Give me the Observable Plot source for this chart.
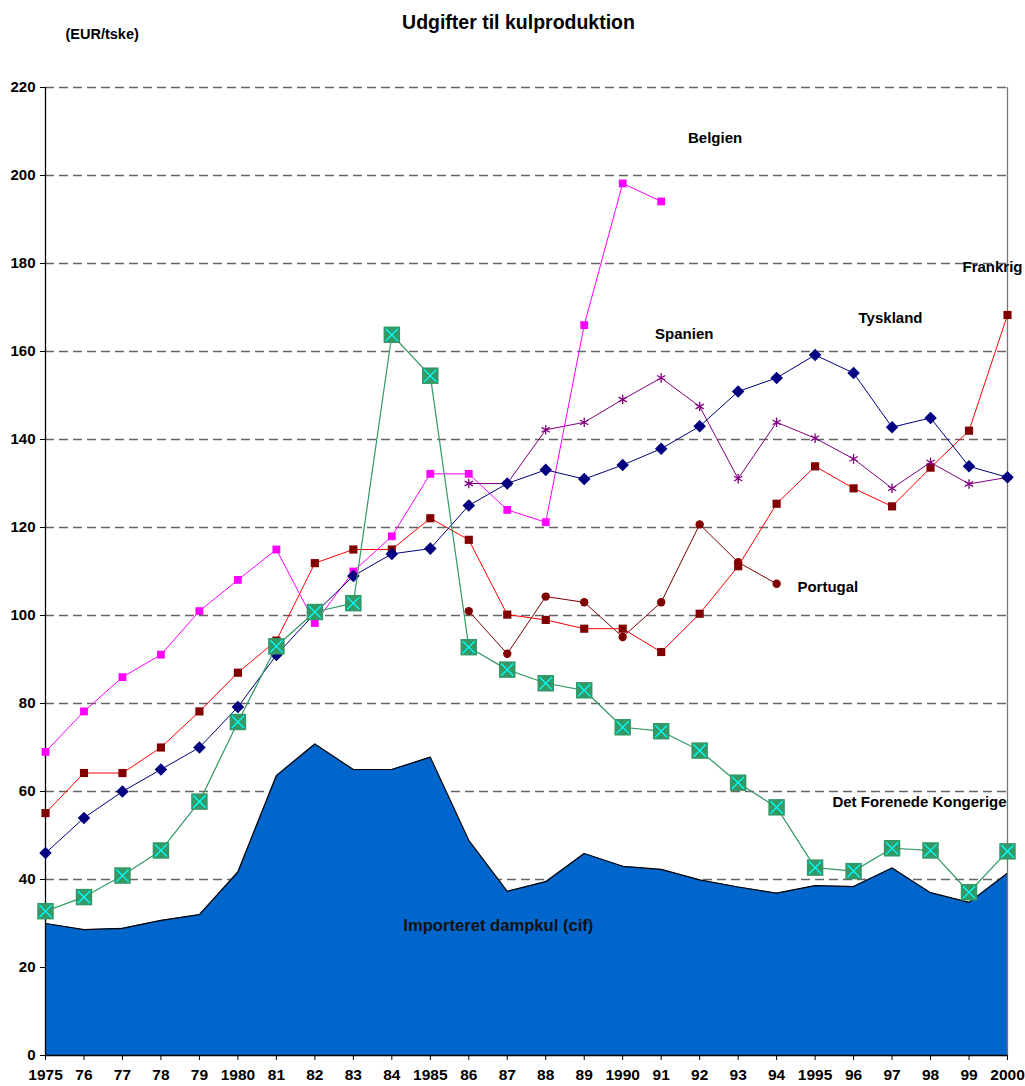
<!DOCTYPE html>
<html>
<head>
<meta charset="utf-8">
<script src="https://cdn.jsdelivr.net/npm/d3@7"></script>
<script src="https://cdn.jsdelivr.net/npm/@observablehq/plot@0.6"></script>
<style>
  html, body { margin: 0; padding: 0; background: white; }
</style>
</head>
<body>
<div id="chart"></div>
<script>
const years = d3.range(1975, 2001);
const tickLabels = ["1975","76","77","78","79","1980","81","82","83","84","1985","86","87","88","89","1990","91","92","93","94","1995","96","97","98","99","2000"];
const yTicks = [0,20,40,60,80,100,120,140,160,180,200,220];

const importeret = [30,28.6,28.9,30.7,32,41.7,63.6,70.8,65,65,67.8,48.9,37.3,39.5,45.9,43,42.3,39.9,38.3,36.9,38.6,38.4,42.6,37,34.8,41.4];
const belgienYears = d3.range(1975, 1992);
const belgien = [69,78.2,86,91.1,101,108.1,115,98.3,110,118,132.2,132.2,124,121.2,166,198.2,194.1];
const frankrig = [55.1,64.2,64.2,70,78.2,87,94.3,111.9,115,115,122.1,117.2,100.2,99,97,97,91.7,100.4,111.2,125.4,133.9,128.9,124.8,133.6,142,168.3];
const tyskland = [46,54,60,65,70,79.2,91,100.5,109,114,115.2,125,130,133.1,131,134.2,137.9,143,150.9,154,159.2,155.1,142.8,144.9,133.9,131.4];
const spanienYears = d3.range(1986, 2001);
const spanien = [130,130,142.2,143.9,149.1,154,147.5,131.1,143.9,140.3,135.6,128.9,134.8,129.9,131.4];
const portugalYears = d3.range(1986, 1995);
const portugal = [101,91.3,104.3,103,95.1,103,120.7,112.1,107.2];
const kongerige = [32.8,36,40.9,46.6,57.7,75.8,93,100.8,102.8,163.8,154.5,92.8,87.7,84.6,83,74.6,73.7,69.3,62,56.4,42.7,41.9,47.1,46.6,37.1,46.4];

const title = "Udgifter til kulproduktion";
const unit = "(EUR/tske)";
const centeredLabels = [
  {name: "Belgien", year: 1992.4, value: 208.4},
  {name: "Spanien", year: 1991.6, value: 163.9},
  {name: "Tyskland", year: 1996.96, value: 167.5}
];
const startLabels = [
  {name: "Frankrig", year: 1998.83, value: 179.1},
  {name: "Portugal", year: 1994.54, value: 106.4},
  {name: "Det Forenede Kongerige", year: 1995.45, value: 57.5}
];
const areaLabel = [{name: "Importeret dampkul (cif)", year: 1984.3, value: 29.5}];

const toRows = (xs, vs) => xs.map((x, i) => ({year: x, value: vs[i]}));
const impRows = toRows(years, importeret);
const belRows = toRows(belgienYears, belgien);
const fraRows = toRows(years, frankrig);
const tysRows = toRows(years, tyskland);
const spaRows = toRows(spanienYears, spanien);
const porRows = toRows(portugalYears, portugal);
const ukRows = toRows(years, kongerige);

const chart = Plot.plot({
  width: 1025,
  height: 1086,
  marginLeft: 45,
  marginRight: 18,
  marginTop: 87,
  marginBottom: 31,
  style: {fontFamily: "'Liberation Sans', Arial, sans-serif", fontWeight: "bold", fontSize: "15px", color: "black", background: "white", overflow: "visible"},
  x: {domain: [1975, 2000]},
  y: {domain: [0, 220]},
  marks: [
    Plot.ruleY(yTicks.filter(d => d > 0), {stroke: "#666", strokeWidth: 1.3, strokeDasharray: "9,5"}),
    Plot.areaY(impRows, {x: "year", y: "value", fill: "#0066CC"}),
    Plot.line(impRows, {x: "year", y: "value", stroke: "black", strokeWidth: 1.2}),
    Plot.ruleX([2000], {stroke: "#777", strokeWidth: 1.3}),
    Plot.ruleX([1975], {stroke: "black", strokeWidth: 1.3}),
    Plot.ruleY([0], {stroke: "black", strokeWidth: 1.3}),
    Plot.axisY({ticks: yTicks, tickSize: 5, tickPadding: 5, label: null, fontSize: 15, fontWeight: "bold"}),
    Plot.axisX({ticks: years, tickSize: 5, tickPadding: 8, tickFormat: (d) => tickLabels[years.indexOf(d)], label: null, fontSize: 15.5, fontWeight: "bold"}),
    // Portugal
    Plot.line(porRows, {x: "year", y: "value", stroke: "#800000", strokeWidth: 1}),
    Plot.dot(porRows, {x: "year", y: "value", symbol: "circle", r: 4.2, fill: "#800000"}),
    // Frankrig
    Plot.line(fraRows, {x: "year", y: "value", stroke: "#FF0000", strokeWidth: 1}),
    Plot.dot(fraRows, {x: "year", y: "value", symbol: "square", r: 4.6, fill: "#800000"}),
    // Belgien
    Plot.line(belRows, {x: "year", y: "value", stroke: "#FF00FF", strokeWidth: 1}),
    Plot.dot(belRows, {x: "year", y: "value", symbol: "square", r: 4.4, fill: "#FF00FF"}),
    // Spanien
    Plot.line(spaRows, {x: "year", y: "value", stroke: "#800080", strokeWidth: 1}),
    Plot.dot(spaRows, {x: "year", y: "value", symbol: "asterisk", r: 4.5, stroke: "#800080", strokeWidth: 1.3}),
    // Tyskland
    Plot.line(tysRows, {x: "year", y: "value", stroke: "#000080", strokeWidth: 1}),
    Plot.dot(tysRows, {x: "year", y: "value", symbol: "square", rotate: 45, r: 5, fill: "#000080"}),
    // Det Forenede Kongerige
    Plot.line(ukRows, {x: "year", y: "value", stroke: "#339966", strokeWidth: 1.2}),
    Plot.dot(ukRows, {x: "year", y: "value", symbol: "square", r: 9.3, fill: "#339966"}),
    Plot.dot(ukRows, {x: "year", y: "value", symbol: "times", r: 5.6, stroke: "#00FFFF", strokeWidth: 1.3}),
    // labels
    Plot.text(centeredLabels, {x: "year", y: "value", text: "name", textAnchor: "middle", fontSize: 15, fontWeight: "bold", fill: "black"}),
    Plot.text(startLabels, {x: "year", y: "value", text: "name", textAnchor: "start", fontSize: 15, fontWeight: "bold", fill: "black"}),
    Plot.text(areaLabel, {x: "year", y: "value", text: "name", textAnchor: "start", fontSize: 16.6, fontWeight: "bold", fill: "#111"}),
    Plot.text([title], {frameAnchor: "top", dx: -8, dy: -72, fontSize: 19.5, fontWeight: "bold", fill: "black"}),
    Plot.text([unit], {frameAnchor: "top-left", dx: 20, dy: -59, textAnchor: "start", fontSize: 14.5, fontWeight: "bold", fill: "black"})
  ]
});
document.getElementById("chart").appendChild(chart);
</script>
</body>
</html>
